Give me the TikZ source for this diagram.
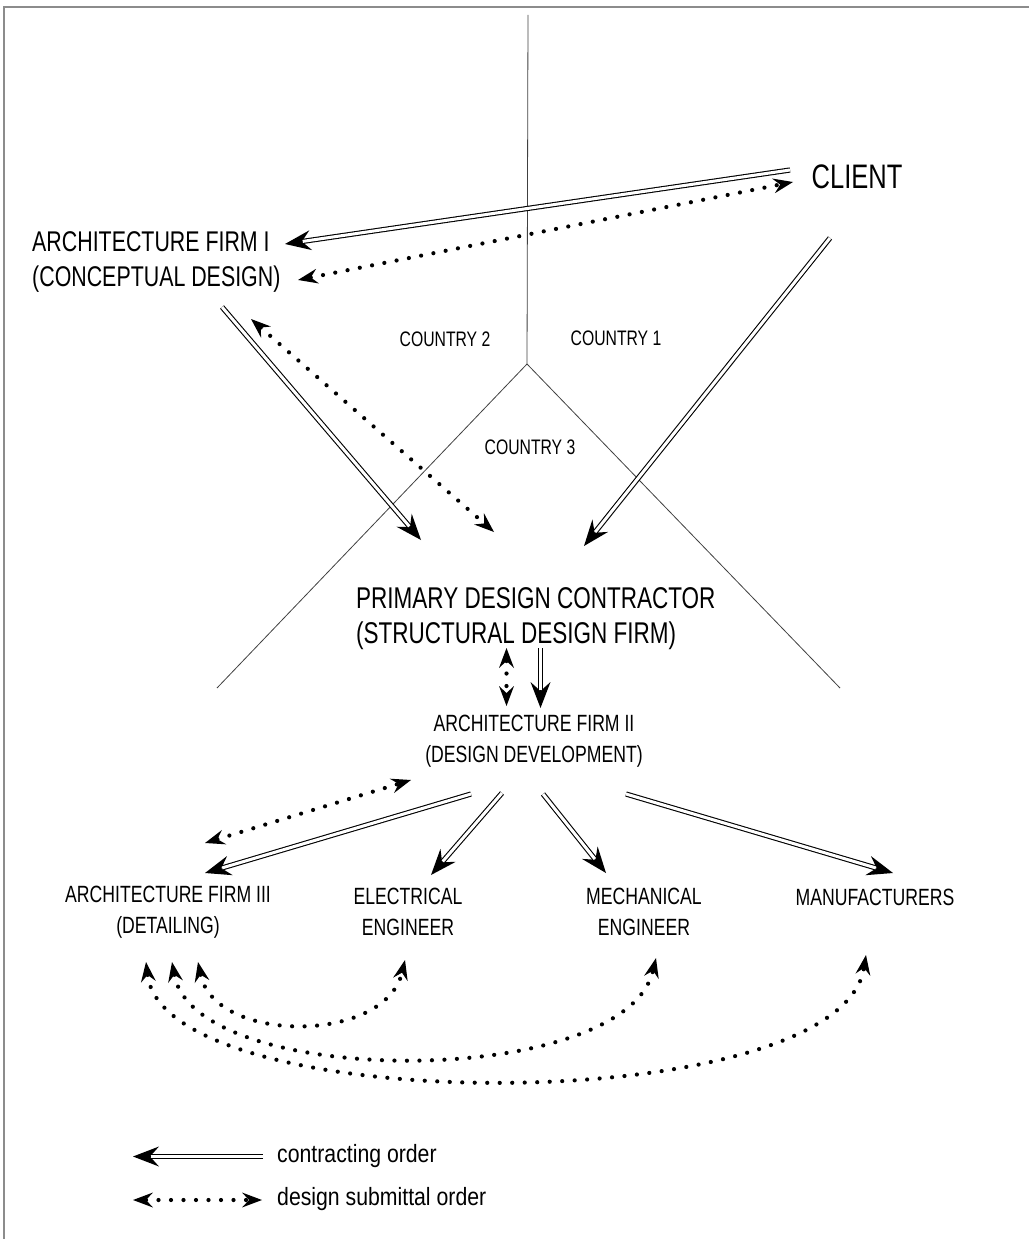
\documentclass[tikz,border=0pt]{standalone}
\usepackage{fontspec}
\setmainfont[FakeStretch=0.75]{Liberation Sans}
\newfontfamily\legendfont[FakeStretch=0.85]{Liberation Sans}
\usetikzlibrary{arrows.meta}

\begin{document}
\begin{tikzpicture}[x=1pt, y=-1pt,
	contract/.style={preaction={draw, line width=0.6pt, shorten >=0pt, -{Stealth[length=26pt, width=20pt, inset=9pt, line width=0pt]}},
		draw, double, double distance=3pt, line width=1.1pt, shorten >=18pt},
	submit/.style={draw, line width=4.2pt, line cap=round, dash pattern=on 0pt off 12.5pt,
		{Stealth[length=20pt, width=15pt, inset=7pt, line width=0pt]}-{Stealth[length=20pt, width=15pt, inset=7pt, line width=0pt]}},
	border/.style={draw=black!45, line width=1.5pt},
	country/.style={draw=black!75, line width=0.8pt},
	huge/.style={font=\fontsize{34}{40}\selectfont, inner sep=0pt},
	big/.style={font=\fontsize{28.5}{35}\selectfont, inner sep=0pt, align=left, anchor=west},
	mid/.style={font=\fontsize{23.5}{31}\selectfont, inner sep=0pt, align=center},
	small/.style={font=\fontsize{21}{25}\selectfont, inner sep=0pt},
	legend/.style={font=\legendfont\fontsize{25}{29}\selectfont, inner sep=0pt, anchor=west}]
				\useasboundingbox (0,0) rectangle (1029,1239);
				\draw[border] (4,1239) -- (4,7) -- (1029,7);

				% countries
				\coordinate (top) at (528,15);
				\coordinate (mid) at (527,364);
				\coordinate (lft) at (217,688);
				\coordinate (rgt) at (840,688);
				\draw[country] (top) -- (mid) (lft) -- (mid) -- (rgt);
				\node[small] (cn2) at (445,339) {COUNTRY 2};
				\node[small] (cn1) at (616,338) {COUNTRY 1};
				\node[small] (cn3) at (530,447) {COUNTRY 3};

				% parties
				\node[huge] (client) at (857,177) {CLIENT};
				\node[big] (firm1) at (32,262) {ARCHITECTURE FIRM I\\(CONCEPTUAL DESIGN)};
				\node[big, font=\fontsize{30}{35}\selectfont] (primary) at (356,619) {PRIMARY DESIGN CONTRACTOR\\(STRUCTURAL DESIGN FIRM)};
				\node[mid] (firm2) at (534,741) {ARCHITECTURE FIRM II\\(DESIGN DEVELOPMENT)};
				\node[mid] (firm3) at (168,912) {ARCHITECTURE FIRM III\\(DETAILING)};
				\node[mid] (elec) at (408,912) {ELECTRICAL\\ENGINEER};
				\node[mid] (mech) at (644,912) {MECHANICAL\\ENGINEER};
				\node[mid] (manuf) at (875,897) {MANUFACTURERS};

				% arrow ends
				\coordinate (client-c) at (790,170);
				\coordinate (client-d) at (793,182);
				\coordinate (client-p) at (830,238);
				\coordinate (firm1-c) at (285,244);
				\coordinate (firm1-d) at (298,280);
				\coordinate (firm1-p) at (222,307);
				\coordinate (firm1-e) at (251,319);
				\coordinate (primary-a) at (421,540);
				\coordinate (primary-b) at (494,532);
				\coordinate (primary-c) at (584,546);
				\coordinate (primary-d) at (506.5,648);
				\coordinate (primary-e) at (540.5,648);
				\coordinate (firm2-d) at (506.5,706);
				\coordinate (firm2-c) at (540.5,708);
				\coordinate (firm2-e) at (411,780);
				\coordinate (firm2-f) at (471,794);
				\coordinate (firm2-g) at (502,793);
				\coordinate (firm2-h) at (543,794);
				\coordinate (firm2-i) at (626,794);
				\coordinate (firm3-d) at (205,843);
				\coordinate (firm3-c) at (205,873);
				\coordinate (elec-c) at (431,875);
				\coordinate (mech-c) at (606,873);
				\coordinate (manuf-c) at (893,873);
				\coordinate (firm3-a) at (198,962);
				\coordinate (firm3-b) at (172,962);
				\coordinate (firm3-x) at (146,962);
				\coordinate (elec-d) at (405,960);
				\coordinate (mech-d) at (656,958);
				\coordinate (manuf-d) at (866,955);

				\draw[contract] (client-c) -- (firm1-c);
				\draw[submit] (firm1-d) -- (client-d);
				\draw[contract] (firm1-p) -- (primary-a);
				\draw[submit] (firm1-e) -- (primary-b);
				\draw[contract] (client-p) -- (primary-c);
				\draw[submit] (primary-d) -- (firm2-d);
				\draw[contract] (primary-e) -- (firm2-c);
				\draw[submit] (firm3-d) -- (firm2-e);
				\draw[contract] (firm2-f) -- (firm3-c);
				\draw[contract] (firm2-g) -- (elec-c);
				\draw[contract] (firm2-h) -- (mech-c);
				\draw[contract] (firm2-i) -- (manuf-c);
				\draw[submit] (firm3-a) .. controls (215,1044) and (385,1044) .. (elec-d);
				\draw[submit] (firm3-b) .. controls (195,1090) and (625,1090) .. (mech-d);
				\draw[submit] (firm3-x) .. controls (165,1120) and (840,1120) .. (manuf-d);

				% legend
				\coordinate (lg-c1) at (263,1156.5);
				\coordinate (lg-c2) at (133,1156.5);
				\coordinate (lg-d1) at (133,1200);
				\coordinate (lg-d2) at (262,1200);
				\draw[contract] (lg-c1) -- (lg-c2);
				\draw[submit] (lg-d1) -- (lg-d2);
				\node[legend] (lg-ctext) at (277,1156) {contracting order};
				\node[legend] (lg-dtext) at (277,1199) {design submittal order};
\end{tikzpicture}
\end{document}
